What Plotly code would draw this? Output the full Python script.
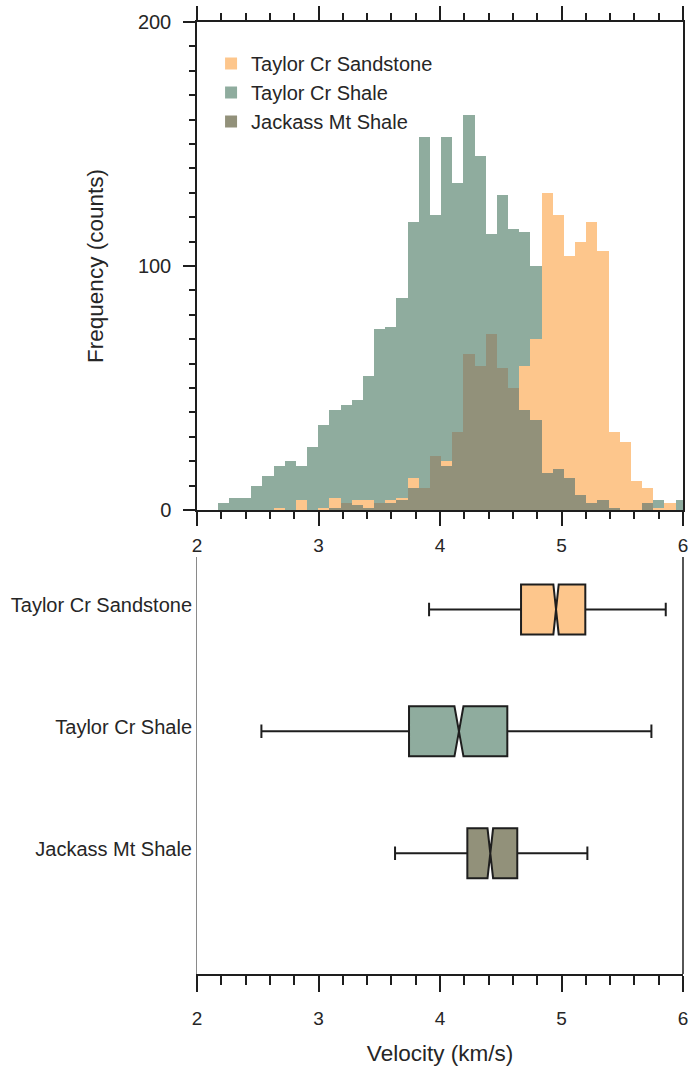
import plotly.graph_objects as go

# ---------------- data ----------------
bin_start = 2.171      # km/s, left edge of first histogram bin
bin_width = 0.0919     # km/s

sandstone_counts = [0, 0, 0, 0, 0, 1, 0, 4, 0, 1, 5, 2, 4, 4, 2, 4, 5, 13, 8, 15,
                    20, 25, 30, 35, 40, 45, 48, 59, 70, 130, 121, 104, 110, 118, 106, 32,
                    28, 12, 9, 1, 3, 0]
shale_counts = [3, 5, 5, 10, 14, 18, 20, 18, 26, 35, 41, 43, 45, 55, 74, 75, 87, 118, 153, 121,
                153, 134, 162, 145, 113, 129, 115, 114, 100, 90, 70, 50, 35, 22, 14, 10,
                6, 4, 3, 4, 2, 4]
jackass_counts = [0, 0, 0, 0, 0, 0, 0, 0, 0, 0, 1, 3, 2, 1, 3, 3, 4, 9, 9, 22,
                  18, 32, 64, 59, 72, 58, 50, 41, 37, 15, 17, 13, 6, 3, 4, 1,
                  0, 0, 3, 0, 0, 0]

groups = ["Taylor Cr Sandstone", "Taylor Cr Shale", "Jackass Mt Shale"]
lowerfence = [3.91, 2.53, 3.63]
q1 = [4.667, 3.745, 4.225]
median = [4.955, 4.156, 4.414]
q3 = [5.196, 4.554, 4.636]
upperfence = [5.858, 5.74, 5.213]
notchspan = [0.022, 0.037, 0.023]

colors = {"Taylor Cr Sandstone": "#FDC68C",
          "Taylor Cr Shale": "#8FAC9E",
          "Jackass Mt Shale": "#92917A"}

x_ticks = [2, 3, 4, 5, 6]
y_ticks = [0, 100, 200]

FONT = "Liberation Sans, Arial, sans-serif"
TXT = "#262626"

centers = [bin_start + bin_width * (i + 0.5) for i in range(len(shale_counts))]
hist_series = {"Taylor Cr Sandstone": sandstone_counts,
               "Taylor Cr Shale": shale_counts,
               "Jackass Mt Shale": jackass_counts}

fig = go.Figure()

# draw order: shale (bottom), sandstone, jackass (top); legend order as in reference
draw_order = ["Taylor Cr Shale", "Taylor Cr Sandstone", "Jackass Mt Shale"]
for name in draw_order:
    fig.add_trace(go.Bar(
        x=centers, y=hist_series[name], width=bin_width,
        name=name, legendgroup=name, legendrank=groups.index(name) + 1,
        marker=dict(color=colors[name], line=dict(width=0)),
        xaxis="x", yaxis="y",
    ))

for i, name in enumerate(groups):
    fig.add_trace(go.Box(
        y=[name], q1=[q1[i]], median=[median[i]], q3=[q3[i]],
        lowerfence=[lowerfence[i]], upperfence=[upperfence[i]],
        notchspan=[notchspan[i]], notched=True, notchwidth=0.5,
        orientation="h", width=0.41, whiskerwidth=0.27,
        fillcolor=colors[name], line=dict(color="#1e1e1e", width=2),
        showlegend=False, xaxis="x2", yaxis="y2", hoverinfo="skip",
    ))

xdom = [197 / 692, 683 / 692]
axis_common = dict(range=[2, 6], tickvals=x_ticks, showgrid=False, zeroline=False,
                   automargin=False,
                   showline=True, linecolor="#1e1e1e", linewidth=1.5,
                   ticks="outside", tickcolor="#1e1e1e", tickwidth=1.5,
                   tickfont=dict(size=19, color=TXT, family=FONT))

fig.update_layout(
    width=692, height=1074,
    margin=dict(l=0, r=0, t=0, b=0, autoexpand=False),
    paper_bgcolor="white", plot_bgcolor="white",
    barmode="overlay", bargap=0,
    font=dict(family=FONT, color=TXT),
    showlegend=True,
    legend=dict(x=0.305, y=1 - 44 / 1074, xanchor="left", yanchor="top",
                bgcolor="rgba(0,0,0,0)", font=dict(size=20, color=TXT, family=FONT),
                tracegroupgap=0, itemwidth=30),
    xaxis=dict(domain=xdom, anchor="y", mirror="ticks", ticklen=14, ticklabelstandoff=3,
               minor=dict(dtick=0.2, ticklen=7, ticks="outside", tickcolor="#1e1e1e", tickwidth=1.5),
               **axis_common),
    yaxis=dict(domain=[1 - 510 / 1074, 1 - 22 / 1074], anchor="x", range=[0, 200],
               tickvals=y_ticks, showgrid=False, zeroline=False, automargin=False,
               showline=True, mirror=True, linecolor="#1e1e1e", linewidth=1.5,
               ticks="outside", ticklen=12, tickcolor="#1e1e1e", tickwidth=1.5,
               ticklabelstandoff=8,
               minor=dict(dtick=10, ticklen=6, ticks="outside", tickcolor="#1e1e1e", tickwidth=1.5),
               tickfont=dict(size=20, color=TXT, family=FONT),
               title=dict(text="Frequency (counts)", font=dict(size=22.5, color=TXT, family=FONT), standoff=28)),
    xaxis2=dict(domain=xdom, anchor="y2", ticklen=16, ticklabelstandoff=10,
                minor=dict(dtick=0.2, ticklen=9, ticks="outside", tickcolor="#1e1e1e", tickwidth=1.5),
                title=dict(text="Velocity (km/s)", font=dict(size=22.5, color=TXT, family=FONT), standoff=18),
                **axis_common),
    yaxis2=dict(domain=[1 - 974 / 1074, 1 - 557 / 1074], anchor="x2", automargin=False,
                type="category", categoryorder="array", categoryarray=groups,
                range=[2.99, -0.43], showgrid=False, zeroline=False,
                showline=True, linecolor="#8a8a8a", linewidth=1, ticks="",
                ticklabelshift=4,
                tickfont=dict(size=20, color=TXT, family=FONT)),
    shapes=[dict(type="line", xref="x2 domain", yref="y2 domain", x0=1, x1=1, y0=0, y1=1,
                 line=dict(color="#1e1e1e", width=1.5))],
)

fig.write_html("out.html")
